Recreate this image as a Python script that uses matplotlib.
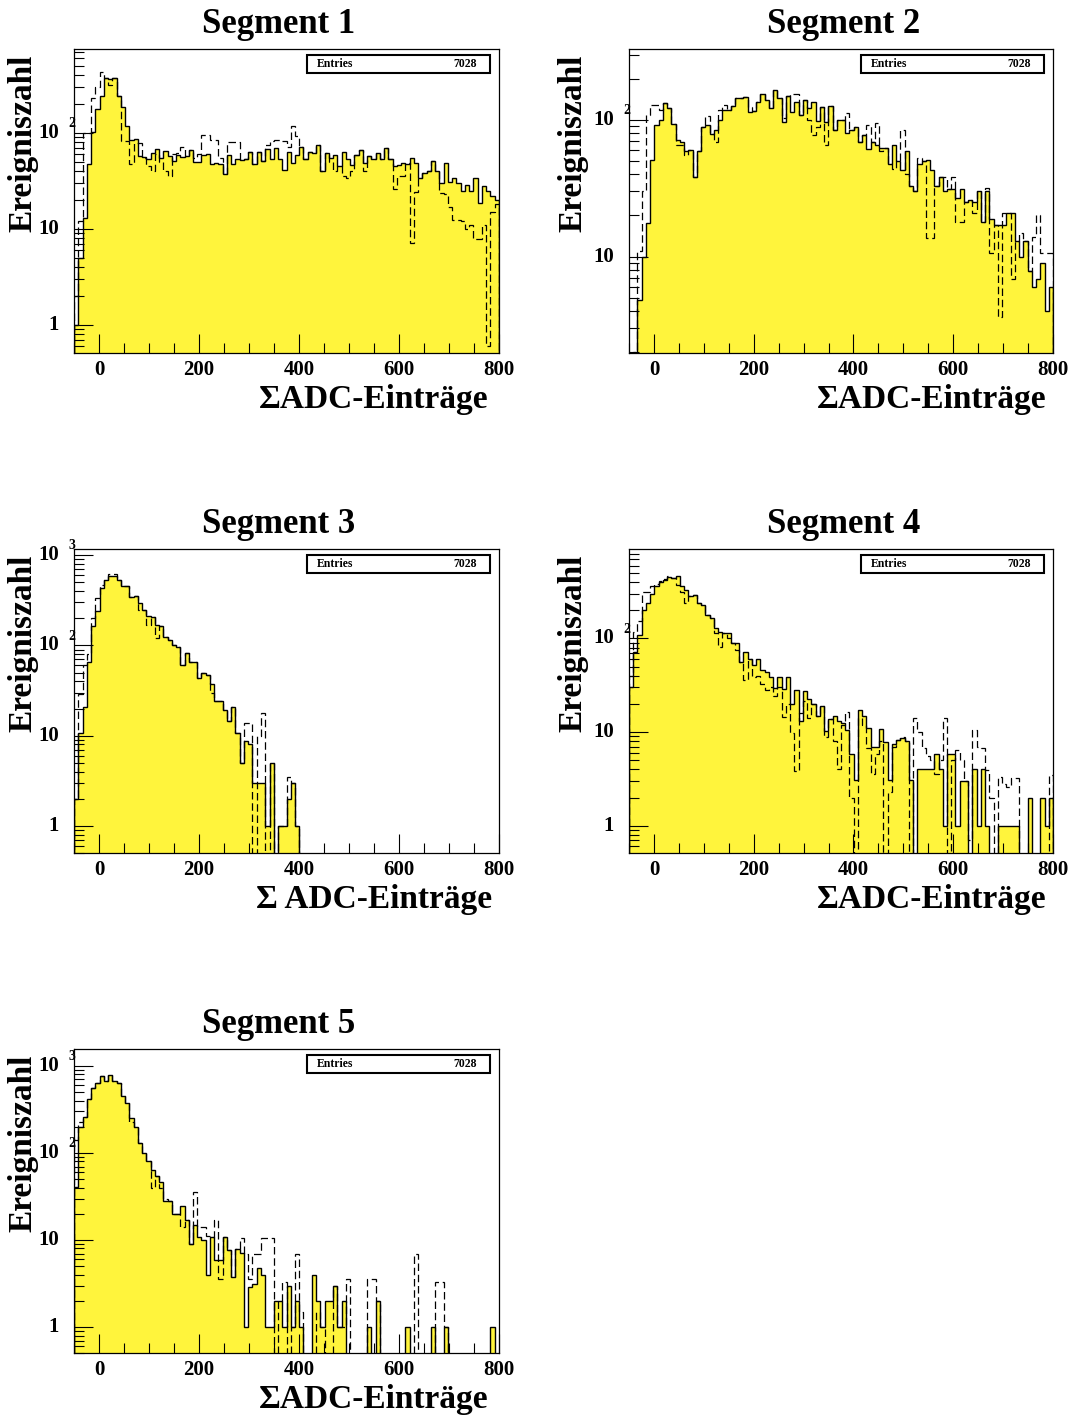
import numpy as np
import matplotlib
matplotlib.use("Agg")
import matplotlib.pyplot as plt
from matplotlib.ticker import FixedLocator, MultipleLocator, LogLocator, NullFormatter
from matplotlib.patches import Rectangle

# ---------------- data (100 bins, -50 .. 800) ----------------
bin_lo, bin_hi, n_bins = -50, 800, 100

seg1_solid = [1, 5, 13, 47, 102, 178, 245, 375, 365, 375, 245, 185, 117, 85, 86, 57, 56, 53, 62, 68,
              55, 65, 57, 51, 59, 56, 57, 67, 50, 50, 59, 60, 47, 49, 48, 37, 59, 47, 53, 52,
              53, 64, 47, 63, 51, 68, 53, 70, 53, 41, 64, 49, 59, 72, 53, 64, 62, 75, 40, 62,
              55, 59, 45, 64, 53, 46, 59, 67, 49, 57, 53, 62, 53, 70, 53, 45, 46, 49, 47, 55,
              49, 34, 38, 40, 51, 40, 30, 49, 31, 34, 30, 25, 29, 25, 34, 18.6, 28, 25, 22, 20]
seg1_dashed = [2, 12, 100, 100, 230, 300, 430, 375, 320, 375, 245, 82, 82, 48, 78, 78, 55, 45, 40, 60,
               50, 40, 36, 60, 62, 72, 57, 67, 55, 60, 96, 96, 85, 85, 55, 37, 80, 80, 80, 52,
               53, 64, 47, 63, 51, 75, 82, 85, 85, 82, 72, 117, 92, 72, 53, 64, 62, 75, 40, 62,
               50, 40, 45, 36, 34, 40, 59, 67, 40, 57, 53, 62, 53, 70, 53, 26, 36, 36, 49, 7.1,
               24.5, 34, 38, 40, 51, 40, 23.5, 23, 17, 12.5, 12.5, 12, 10, 11, 7.9, 7.9, 11, 0.6, 15, 18]

seg2_solid = [0, 1, 4.8, 10, 17.5, 51, 92, 100, 132, 122, 93, 71, 69, 59, 60, 38, 59, 89, 92, 79,
              85, 100, 118, 118, 127, 144, 146, 148, 115, 116, 135, 155, 140, 122, 165, 146, 97, 150, 115, 136,
              109, 140, 122, 135, 98, 125, 97, 127, 84, 100, 100, 80, 85, 89, 69, 78, 61, 69, 66, 62,
              62, 48, 66, 50, 43, 59, 33, 30, 48, 50, 51, 43, 33, 38, 30, 31, 31, 27, 31, 25,
              26, 25, 30, 18, 30, 19, 17, 17, 17, 21, 21, 13, 10, 13, 7.8, 6.0, 6.9, 9, 4.0, 6]
seg2_dashed = [0, 2, 11, 30, 109, 129, 129, 118, 132, 122, 93, 66, 66, 55, 60, 38, 59, 89, 107, 79,
               69, 118, 129, 118, 127, 144, 146, 148, 125, 116, 135, 155, 140, 122, 165, 146, 103, 150, 154, 154,
               109, 140, 100, 78, 89, 125, 66, 127, 84, 100, 100, 112, 85, 89, 69, 78, 92, 69, 95, 59,
               62, 48, 44, 50, 84, 40, 33, 30, 53, 50, 13.6, 13.6, 33, 38, 38, 31, 38, 18, 18, 25,
               26, 21, 30, 18, 32, 10.6, 17, 3.6, 21, 21, 6.9, 13, 15, 13, 7.8, 14, 20, 10.6, 10.6, 10.6]

seg3_solid = [2, 10.7, 21, 66, 164, 240, 427, 528, 587, 580, 528, 458, 450, 340, 355, 292, 246, 213, 208, 166,
              162, 125, 115, 101, 97, 60, 82, 65, 66, 44, 50, 47, 37, 24, 24, 19.4, 14.4, 21, 10.7, 5,
              8.7, 8, 3, 3, 3, 1, 5, 0, 1, 1, 2, 3, 1] + [0] * 47
seg3_dashed = [2, 29, 60, 80, 203, 331, 470, 528, 610, 610, 528, 458, 450, 340, 355, 246, 246, 168, 208, 120,
               162, 125, 115, 101, 97, 60, 82, 65, 66, 44, 50, 47, 30, 24, 24, 19.4, 14.4, 21, 10.7, 5,
               13.8, 13.8, 0, 10, 17.8, 0, 5, 0, 1, 1, 3.5, 3, 1] + [0] * 47

seg4_solid = [30, 72, 109, 202, 242, 297, 362, 398, 423, 454, 443, 470, 362, 330, 286, 290, 238, 230, 178, 164,
              128, 118, 115, 113, 90, 90, 56, 72, 61, 52, 61, 45.6, 44, 38.6, 29.6, 39, 29, 39, 20, 28,
              13.2, 27.7, 22.6, 20, 14.9, 19, 10.3, 13.8, 14.9, 13.2, 12.6, 10.5, 5.9, 3.1, 17, 15, 11, 7, 7, 10.7,
              7.9, 3.1, 7.5, 8.2, 8.7, 8, 3.1, 0, 4, 4, 4, 4, 5.9, 4, 1, 5.9, 5.9, 1, 3, 3,
              0, 4, 1, 4, 1, 0, 0, 1, 1, 1, 1, 1, 0, 0, 2, 0, 0, 2, 1, 2]
seg4_dashed = [40, 118, 155, 310, 310, 360, 380, 410, 430, 460, 443, 375, 316, 238, 286, 290, 238, 230, 178, 164,
               113, 81, 115, 100, 90, 75, 56, 35.6, 61, 38.6, 40, 33, 28, 30, 24.5, 30, 14.5, 20, 9.8, 3.8,
               16, 21.6, 14.3, 20, 14.9, 19, 8.9, 13.8, 8, 4, 12, 16.5, 2, 0, 14, 12, 6.7, 3.6, 5.9, 8,
               0, 2.3, 7, 8.2, 8.9, 8, 0, 14, 10, 6.7, 5.5, 5, 3.6, 5, 14, 0, 5, 6.4, 5, 3,
               0.7, 10.5, 7, 6.7, 3.9, 2, 0, 3.3, 2.8, 2.6, 3.2, 3.2, 0, 0, 0, 0, 0, 0, 0, 3.5]

seg5_solid = [41, 198, 257, 415, 555, 645, 769, 680, 790, 680, 645, 453, 373, 251, 198, 132, 99, 80, 64, 54,
              46, 28, 28, 20, 20, 24.7, 17, 9, 15, 10.8, 10, 4, 10.8, 5.9, 5.9, 10.8, 7.7, 3.8, 7.9, 7.1,
              1, 2.9, 3.1, 4.8, 4, 1, 1, 2, 2, 1, 3, 1, 2, 1, 0, 0, 4, 2, 1, 2,
              2, 3, 1, 2, 0, 0, 0, 0, 0, 1, 0, 2, 0, 0, 0, 0, 0, 0, 1, 0,
              0, 0, 0, 0, 1, 0, 0, 1, 0, 0, 0, 0, 0, 0, 0, 0, 0, 0, 1, 0]
seg5_dashed = [140, 230, 257, 415, 555, 645, 769, 680, 790, 680, 645, 453, 373, 230, 198, 132, 99, 80, 40, 54,
               40, 30, 28, 20, 20, 14, 17, 9, 36, 14, 14, 11, 10.8, 17, 3.6, 10.8, 7.7, 3.8, 7.9, 10.5,
               7, 3.6, 7, 7, 10.5, 10.5, 10.5, 0, 2, 3.3, 0, 1, 7, 1.5, 0, 0, 0, 1.5, 1, 0,
               0, 3, 1, 1, 3.6, 0, 0, 0, 0, 3.6, 3.6, 2, 0, 0, 0, 0, 0, 0, 0, 0,
               7, 0, 0, 0, 0, 3.3, 3.3, 1, 0, 0, 0, 0, 0, 0, 0, 0, 0, 0, 0, 0]

titles = ["Segment 1", "Segment 2", "Segment 3", "Segment 4", "Segment 5"]
xlabels = ["ΣADC-Einträge", "ΣADC-Einträge", "Σ ADC-Einträge", "ΣADC-Einträge", "ΣADC-Einträge"]
ylabel = "Ereigniszahl"
entries = [7028, 7028, 7028, 7028, 7028]
x_ticks = [0, 200, 400, 600, 800]
ylims = [(0.507, 745), (1.96, 329), (0.5, 1157), (0.507, 896), (0.5, 1555)]
ytick_labels = [
    [(1, "1", ""), (10, "10", ""), (100, "10", "2")],
    [(10, "10", ""), (100, "10", "2")],
    [(1, "1", ""), (10, "10", ""), (100, "10", "2"), (1000, "10", "3")],
    [(1, "1", ""), (10, "10", ""), (100, "10", "2")],
    [(1, "1", ""), (10, "10", ""), (100, "10", "2"), (1000, "10", "3")],
]
solids = [seg1_solid, seg2_solid, seg3_solid, seg4_solid, seg5_solid]
dasheds = [seg1_dashed, seg2_dashed, seg3_dashed, seg4_dashed, seg5_dashed]

# ---------------- style / layout ----------------
plt.rcParams["font.family"] = ["Liberation Serif", "DejaVu Serif"]
plt.rcParams["font.weight"] = "bold"
YELLOW = "#fff43c"
W, H = 1073, 1420
fig = plt.figure(figsize=(W / 100, H / 100), dpi=100)

# (left px, top px, width px) for each panel
pos = [(74, 49.3, 425), (629, 49.3, 424), (74, 549.3, 425), (629, 549.3, 424), (74, 1049.3, 425)]
AX_H = 304
edges = np.linspace(bin_lo, bin_hi, n_bins + 1)
FLOOR = 1e-3

for i in range(5):
    left, top, wid = pos[i]
    ax = fig.add_axes([left / W, 1 - (top + AX_H) / H, wid / W, AX_H / H])
    ax.set_yscale("log")

    s = np.asarray(solids[i], float)
    d = np.asarray(dasheds[i], float)
    sp = np.where(s > 0, s, FLOOR)
    dp = np.where(d > 0, d, FLOOR)
    ax.stairs(sp, edges, fill=True, color=YELLOW, baseline=FLOOR, linewidth=0, zorder=1)
    ax.stairs(sp, edges, color="black", linewidth=1.0, baseline=FLOOR, zorder=2)
    ax.stairs(dp, edges, color="black", linewidth=0.9, linestyle=(0, (6, 3)), baseline=FLOOR, zorder=3)

    ax.set_xlim(bin_lo, bin_hi)
    ax.set_ylim(*ylims[i])

    ax.xaxis.set_major_locator(FixedLocator(x_ticks))
    ax.xaxis.set_minor_locator(MultipleLocator(50))
    ax.tick_params(axis="x", which="major", direction="in", length=14, width=0.8,
                   top=False, labelsize=15, pad=5)
    ax.tick_params(axis="x", which="minor", direction="in", length=7, width=0.8, top=False)
    ax.yaxis.set_major_locator(LogLocator(base=10, numticks=12))
    ax.yaxis.set_minor_locator(LogLocator(base=10, subs=np.arange(2, 10), numticks=40))
    ax.yaxis.set_major_formatter(NullFormatter())
    ax.yaxis.set_minor_formatter(NullFormatter())
    ax.tick_params(axis="y", which="major", direction="in", length=14, width=0.8, right=False)
    ax.tick_params(axis="y", which="minor", direction="in", length=7, width=0.8, right=False)
    for sp_ in ax.spines.values():
        sp_.set_linewidth(0.9)

    # ROOT-style y labels
    for val, txt, ex in ytick_labels[i]:
        ax.annotate(txt, xy=(0, val), xycoords=("axes fraction", "data"),
                    xytext=(-11, 0), textcoords="offset points",
                    ha="right", va="center", fontsize=15, annotation_clip=False)
        if ex:
            ax.annotate(ex, xy=(0, val), xycoords=("axes fraction", "data"),
                        xytext=(-1.5, 6.5), textcoords="offset points",
                        ha="center", va="center", fontsize=10, annotation_clip=False)

    # stats box
    ax.add_patch(Rectangle((0.5475, 0.921), 0.4315, 0.06, transform=ax.transAxes,
                           facecolor="white", edgecolor="black", linewidth=1.5, zorder=5))
    ax.text(0.571, 0.951, "Entries", transform=ax.transAxes, ha="left", va="center",
            fontsize=8.5, zorder=6)
    ax.text(0.9475, 0.951, str(entries[i]), transform=ax.transAxes, ha="right", va="center",
            fontsize=8.5, zorder=6)

    # titles and axis titles
    row = i // 2
    col = i % 2
    title_x = 278.5 if col == 0 else 843.5
    fig.text(title_x / W, 1 - (33 + 500 * row) / H, titles[i], ha="center", va="baseline", fontsize=25)
    ylab_x = 23 if col == 0 else 573
    fig.text(ylab_x / W, 1 - (55 + 500 * row) / H, ylabel, rotation=90, ha="center", va="top", fontsize=24)
    xlab_r = (488 if i != 2 else 492) if col == 0 else 1046
    fig.text(xlab_r / W, 1 - (408 + 500 * row) / H, xlabels[i], ha="right", va="baseline", fontsize=24)

fig.savefig("out.png", dpi=100)
